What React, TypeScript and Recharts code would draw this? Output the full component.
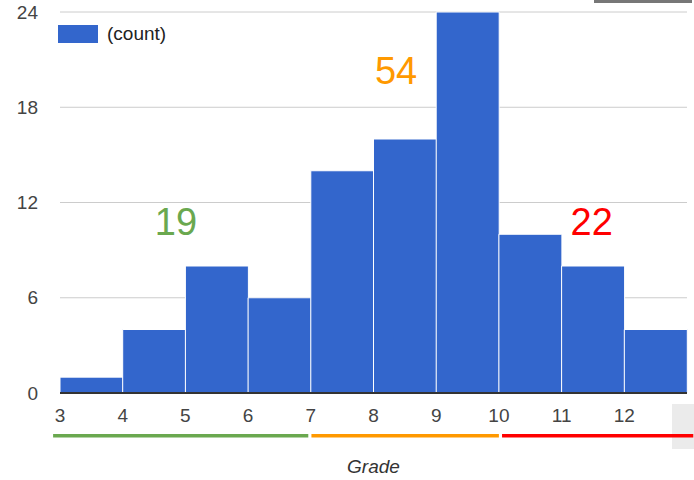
import {
  ComposedChart, Bar, XAxis, YAxis, CartesianGrid,
  ReferenceLine, ReferenceDot,
} from 'recharts'

const FONT = 'Arial, "Liberation Sans", sans-serif'

// histogram bins (grade start, grade end) and counts
const binStarts = [3, 4, 5, 6, 7, 8, 9, 10, 11, 12]
const binLabels = ['3-4', '4-5', '5-6', '6-7', '7-8', '8-9', '9-10', '10-11', '11-12', '12-13']
const counts = [1, 4, 8, 6, 14, 16, 24, 10, 8, 4]

const xTicks = [3, 4, 5, 6, 7, 8, 9, 10, 11, 12]
const yTicks = [0, 6, 12, 18, 24]

// grade bands drawn under the axis, with their totals
const bandNames = ['low', 'mid', 'high']
const bandFrom = [2.89, 7.01, 10.05]
const bandTo = [6.96, 10.0, 13.1]
const bandColors = ['#6aa84f', '#ff9900', '#ff0000']
const bandTotals = ['19', '54', '22']
const totalX = [4.85, 8.36, 11.48]
const totalY = [10.75, 20.3, 10.75]

const data = binLabels.map((label, i) => ({ label, start: binStarts[i], count: counts[i] }))

export default function App() {
  return (
    <div style={{ position: 'absolute', left: 0, top: 0, width: 694, height: 480, background: '#fff' }}>
      {/* screenshot artifacts: scroll box on the right, strip at the top */}
      <div style={{ position: 'absolute', left: 672, top: 404, width: 22, height: 45, background: '#ebebeb' }} />
      <div style={{ position: 'absolute', left: 594, top: 0, width: 98, height: 3, background: '#777777' }} />
      <ComposedChart
        width={694}
        height={480}
        data={data}
        barCategoryGap={0}
        margin={{ top: 12, right: 7, bottom: 0, left: 0 }}
        style={{ fontFamily: FONT }}
      >
        <CartesianGrid vertical={false} stroke="#cccccc" />
        <XAxis xAxisId="cat" dataKey="label" hide />
        <XAxis
          dataKey="start" type="number" domain={[3, 13]} ticks={xTicks}
          allowDataOverflow height={87}
          tickLine={false} tickMargin={10}
          axisLine={{ stroke: '#333333', strokeWidth: 2 }}
          tick={{ fill: '#444444', fontSize: 19 }}
          label={{ value: 'Grade', position: 'insideBottom', offset: 7, fill: '#333333', fontSize: 19, fontStyle: 'italic' }}
        />
        <YAxis
          type="number" domain={[0, 24]} ticks={yTicks} width={60}
          tickLine={false} axisLine={false} tickMargin={16}
          tick={{ fill: '#444444', fontSize: 19 }}
        />
        <Bar
          xAxisId="cat" dataKey="count" name="(count)" fill="#3366cc"
          stroke="#ffffff" strokeWidth={1} isAnimationActive={false}
        />
        {bandNames.map((name, i) => (
          <ReferenceLine
            key={name}
            segment={[{ x: bandFrom[i], y: -2.7 }, { x: bandTo[i], y: -2.7 }]}
            stroke={bandColors[i]} strokeWidth={3.5} ifOverflow="visible"
          />
        ))}
        {bandNames.map((name, i) => (
          <ReferenceDot
            key={name + '-total'}
            x={totalX[i]} y={totalY[i]} r={0}
            shape={(p: any) => (
              <text
                x={p.cx} y={p.cy} textAnchor="middle" dominantBaseline="central"
                fill={bandColors[i]} fontSize={38} fontFamily={FONT}
              >
                {bandTotals[i]}
              </text>
            )}
          />
        ))}
      </ComposedChart>
      {/* legend */}
      <div style={{
        position: 'absolute', left: 58, top: 25, display: 'flex', alignItems: 'center',
        fontFamily: FONT, fontSize: 19, color: '#222', lineHeight: '18px',
      }}>
        <span style={{ width: 40, height: 18, background: '#3366cc', display: 'inline-block', marginRight: 9 }} />
        <span>(count)</span>
      </div>
    </div>
  )
}
